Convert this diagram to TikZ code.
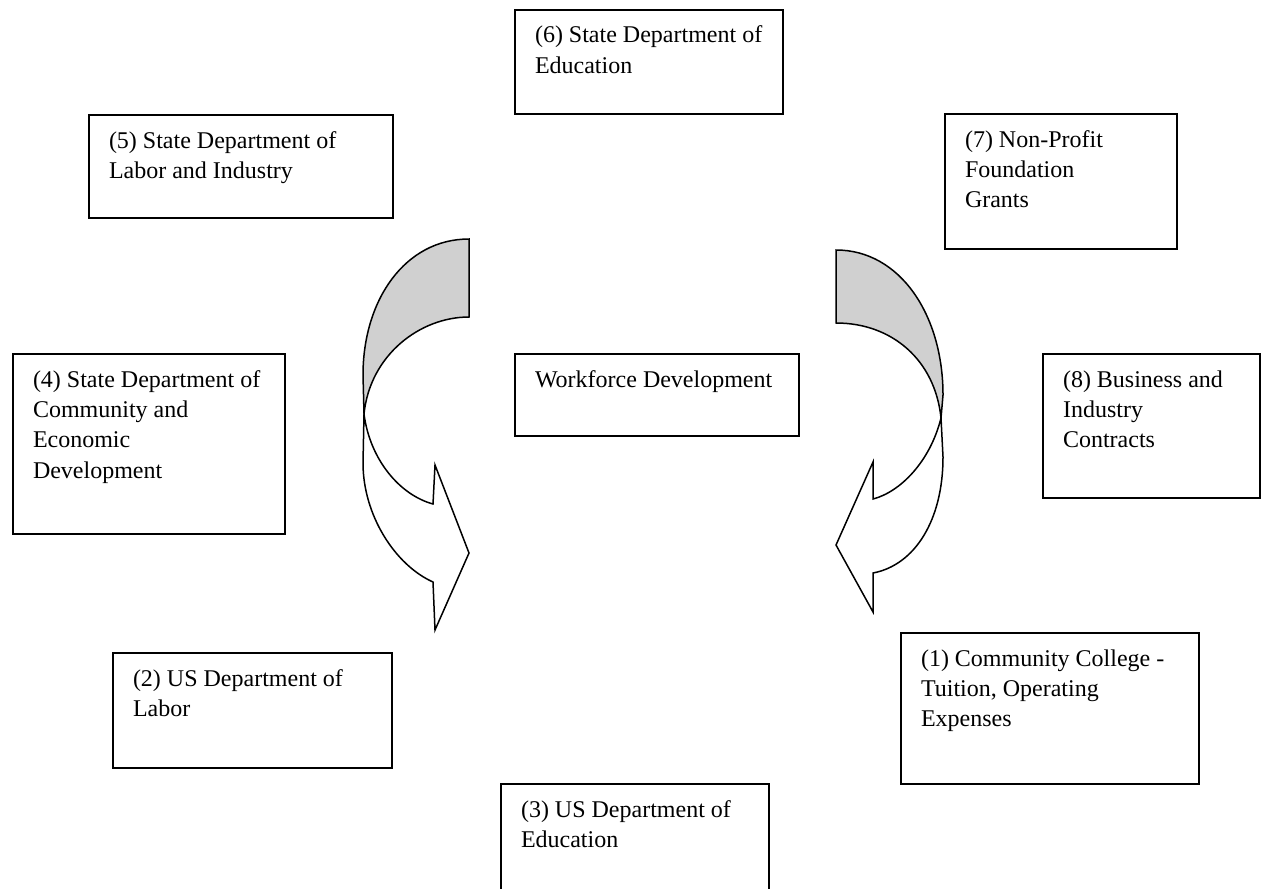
\documentclass[tikz,border=0pt]{standalone}
\usepackage{fontspec}
\setmainfont{Liberation Serif}
\newcommand{\boxcontent}[3]{\begin{minipage}[c][#2][t]{#1}\leftskip=10pt\rightskip=0pt plus 1fil\parindent=0pt\baselineskip=15.2pt\rule{0pt}{16.5pt}#3\end{minipage}}
\definecolor{arrowgray}{RGB}{208,208,208}
\tikzset{
  fundbox/.style={draw=black, line width=1pt, inner sep=0pt, anchor=north west, font=\fontsize{12pt}{15.2pt}\selectfont},
  arrowface/.style={draw=black, line width=0.75pt, line join=miter, fill=white},
  arrowback/.style={draw=black, line width=0.75pt, line join=miter, fill=arrowgray}
}
\begin{document}
\begin{tikzpicture}[x=0.5pt, y=-0.5pt]
\useasboundingbox (0,0) rectangle (1261,888);
% boxes
\node[fundbox] (n6) at (514,9) {\boxcontent{134pt}{52pt}{(6) State Department of\newline Education}};
\node[fundbox] (n5) at (88,114) {\boxcontent{152pt}{51.5pt}{(5) State Department of\newline Labor and Industry}};
\node[fundbox] (n7) at (944,113) {\boxcontent{116pt}{67.5pt}{(7) Non-Profit\newline Foundation\newline Grants}};
\node[fundbox] (n8) at (1042,353) {\boxcontent{108.5pt}{72pt}{(8) Business and\newline Industry\newline Contracts}};
\node[fundbox] (n4) at (12,353) {\boxcontent{136pt}{90pt}{(4) State Department of\newline Community and\newline Economic\newline Development}};
\node[fundbox] (nW) at (514,353) {\boxcontent{142pt}{41pt}{Workforce Development}};
\node[fundbox] (n3) at (500,783) {\boxcontent{134pt}{65pt}{(3) US Department of\newline Education}};
\node[fundbox] (n2) at (112,652) {\boxcontent{139.5pt}{57.5pt}{(2) US Department of\newline Labor}};
\node[fundbox] (n1) at (900,632) {\boxcontent{149pt}{75.5pt}{(1) Community College -\newline Tuition, Operating\newline Expenses}};
% left curved arrow
\path[arrowface] (364,414) -- (363,463) .. controls (363,515) and (395,565) .. (433,582)
  -- (435,630) -- (469,553) -- (435,465) -- (433,504)
  .. controls (400,495) and (370,460) .. (364,414) -- cycle;
\path[arrowback] (469,239) .. controls (405,239) and (363,300) .. (363,375) -- (364,414)
  .. controls (370,355) and (420,317) .. (469,317) -- cycle;
% right curved arrow
\path[arrowface] (941,418) -- (943,457) .. controls (943,520) and (915,565) .. (873,573)
  -- (873,612) -- (836,545) -- (873,462) -- (873,499)
  .. controls (900,492) and (930,462) .. (941,418) -- cycle;
\path[arrowback] (836,250) .. controls (900,250) and (943,315) .. (943,395) -- (941,418)
  .. controls (935,360) and (892,323) .. (836,323) -- cycle;
\end{tikzpicture}
\end{document}
